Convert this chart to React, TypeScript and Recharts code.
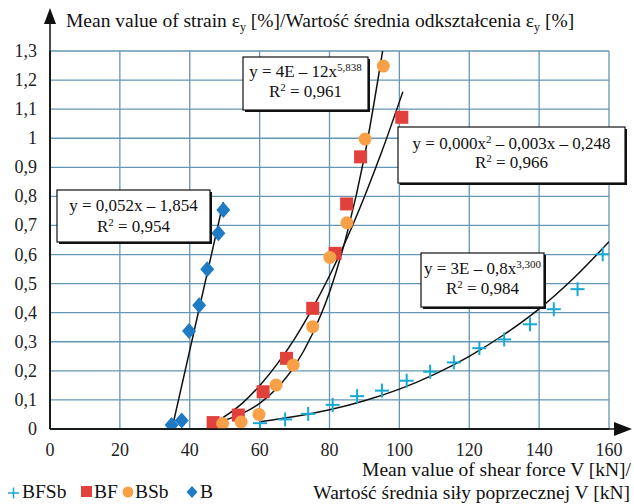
import React from 'react';
import { ComposedChart, Scatter, Line, XAxis, YAxis, CartesianGrid } from 'recharts';

const xTicks = [0, 20, 40, 60, 80, 100, 120, 140, 160];
const yTicks = [0, 0.1, 0.2, 0.3, 0.4, 0.5, 0.6, 0.7, 0.8, 0.9, 1, 1.1, 1.2, 1.3];

const bfsbX = [60.1, 67.3, 73.9, 80.9, 87.9, 95.0, 102.1, 108.8, 115.6, 122.9, 130.0, 137.4, 144.2, 151.0, 158.2];
const bfsbY = [0.02, 0.033, 0.052, 0.083, 0.113, 0.132, 0.166, 0.197, 0.229, 0.278, 0.308, 0.36, 0.412, 0.481, 0.601];
const bfX = [46.7, 53.9, 61.0, 67.7, 75.2, 81.6, 84.9, 88.9, 100.7];
const bfY = [0.022, 0.048, 0.128, 0.243, 0.415, 0.604, 0.774, 0.936, 1.072];
const bsbX = [49.4, 54.7, 59.8, 64.7, 69.6, 75.2, 80.1, 85.0, 90.2, 95.4];
const bsbY = [0.019, 0.024, 0.05, 0.151, 0.22, 0.352, 0.59, 0.709, 0.997, 1.248];
const bX = [34.8, 37.7, 39.8, 42.7, 45.0, 48.2, 49.6];
const bY = [0.014, 0.029, 0.337, 0.426, 0.549, 0.673, 0.753];

const bTrendX = [34.9, 49.6];
const bTrendY = [0, 0.78];
const bsbTrendX = [50, 55, 60, 65, 70, 75, 80, 85, 90, 95.2];
const bsbTrendY = [0.03, 0.053, 0.088, 0.141, 0.216, 0.324, 0.47, 0.672, 0.937, 1.3];
const bfTrendX = [47, 55, 60, 65, 70, 75, 80, 85, 90, 95, 101];
const bfTrendY = [0.02, 0.088, 0.149, 0.223, 0.31, 0.412, 0.527, 0.656, 0.799, 0.955, 1.16];
const bfsbTrendX = [60, 70, 80, 90, 100, 110, 120, 130, 140, 150, 160];
const bfsbTrendY = [0.025, 0.043, 0.066, 0.097, 0.137, 0.188, 0.25, 0.325, 0.413, 0.52, 0.644];

const zip = (xs: number[], ys: number[]) => xs.map((x, i) => ({ x, y: ys[i] }));

const CYAN = '#17a9d6';
const RED = '#e2403c';
const ORANGE = '#f7a047';
const BLUE = '#1f7bc4';
const GRID = '#6497b4';
const FONT = '"Liberation Serif", "DejaVu Serif", serif';

const CrossShape = (p: any) => (
  <g stroke={CYAN} strokeWidth={2}>
    <line x1={p.cx - 7} y1={p.cy} x2={p.cx + 7} y2={p.cy} />
    <line x1={p.cx} y1={p.cy - 7} x2={p.cx} y2={p.cy + 7} />
  </g>
);
const SquareShape = (p: any) => <rect x={p.cx - 6.5} y={p.cy - 6.5} width={13} height={13} fill={RED} />;
const CircleShape = (p: any) => <circle cx={p.cx} cy={p.cy} r={6.5} fill={ORANGE} />;
const DiamondShape = (p: any) => (
  <polygon points={`${p.cx},${p.cy - 8} ${p.cx + 7},${p.cy} ${p.cx},${p.cy + 8} ${p.cx - 7},${p.cy}`} fill={BLUE} />
);

const fmt = (v: number) => {
  if (v === 0) return '0';
  if (Math.abs(v - 1) < 1e-9) return '1';
  return v.toFixed(1).replace('.', ',');
};

const XTick = (p: any) => (
  <text x={p.x} y={p.y} dy={13} textAnchor="middle" fontFamily={FONT} fontSize={18} fill="#222">
    {p.payload.value}
  </text>
);
const YTick = (p: any) => (
  <text x={p.x} y={p.y} dy={6} textAnchor="end" fontFamily={FONT} fontSize={18} fill="#222">
    {fmt(p.payload.value)}
  </text>
);

const Box = ({ x, y, w, h, children }: any) => (
  <g>
    <rect x={x + 2} y={y + 2} width={w} height={h} fill="#111" />
    <rect x={x} y={y} width={w} height={h} fill="#fff" stroke="#111" strokeWidth={1.2} />
    {children}
  </g>
);

export default function App() {
  return (
    <div style={{ position: 'absolute', left: 0, top: 0, width: 634, height: 504, background: '#fff', fontFamily: FONT }}>
      <ComposedChart width={634} height={504} margin={{ top: 51, right: 25, bottom: 45, left: 10 }}>
        <CartesianGrid stroke={GRID} strokeWidth={1.3} />
        <XAxis
          type="number"
          dataKey="x"
          domain={[0, 160]}
          ticks={xTicks}
          height={30}
          tickSize={0}
          tickMargin={14}
          axisLine={{ stroke: '#111', strokeWidth: 1.5 }}
          tick={<XTick />}
          allowDataOverflow
        />
        <YAxis
          type="number"
          domain={[0, 1.3]}
          ticks={yTicks}
          width={40}
          tickSize={0}
          tickMargin={13}
          axisLine={{ stroke: '#111', strokeWidth: 1.5 }}
          tick={<YTick />}
          allowDataOverflow
        />
        <Scatter name="BFSb" data={zip(bfsbX, bfsbY)} dataKey="y" shape={CrossShape} isAnimationActive={false} />
        <Scatter name="BF" data={zip(bfX, bfY)} dataKey="y" shape={SquareShape} isAnimationActive={false} />
        <Scatter name="BSb" data={zip(bsbX, bsbY)} dataKey="y" shape={CircleShape} isAnimationActive={false} />
        <Scatter name="B" data={zip(bX, bY)} dataKey="y" shape={DiamondShape} isAnimationActive={false} />
        <Line data={zip(bTrendX, bTrendY)} dataKey="y" type="linear" stroke="#111" strokeWidth={1.5} dot={false} isAnimationActive={false} legendType="none" />
        <Line data={zip(bsbTrendX, bsbTrendY)} dataKey="y" type="monotone" stroke="#111" strokeWidth={1.5} dot={false} isAnimationActive={false} legendType="none" />
        <Line data={zip(bfTrendX, bfTrendY)} dataKey="y" type="monotone" stroke="#111" strokeWidth={1.5} dot={false} isAnimationActive={false} legendType="none" />
        <Line data={zip(bfsbTrendX, bfsbTrendY)} dataKey="y" type="monotone" stroke="#111" strokeWidth={1.5} dot={false} isAnimationActive={false} legendType="none" />
      </ComposedChart>
      <svg width={634} height={504} style={{ position: 'absolute', left: 0, top: 0, pointerEvents: 'none' }} fontFamily={FONT}>
        {/* axis extensions and arrows */}
        <line x1={50} y1={429} x2={50} y2={22} stroke="#111" strokeWidth={1.5} />
        <polygon points="50,8 44,24 56,24" fill="#111" />
        <line x1={50} y1={429} x2={614} y2={429} stroke="#111" strokeWidth={1.5} />
        <polygon points="632,429 614,422 614,436" fill="#111" />
        {/* y title */}
        <text x={66} y={27} fontSize={19.5} fill="#111">
          Mean value of strain ε<tspan fontSize={12} dy={4}>y</tspan>
          <tspan dy={-4}> [%]/Wartość średnia odkształcenia ε</tspan>
          <tspan fontSize={12} dy={4}>y</tspan>
          <tspan dy={-4}> [%]</tspan>
        </text>
        {/* x title */}
        <text x={631} y={476} fontSize={19.5} fill="#111" textAnchor="end">Mean value of shear force V [kN]/</text>
        <text x={630} y={499} fontSize={19.5} fill="#111" textAnchor="end">Wartość średnia siły poprzecznej V [kN]</text>
        {/* legend */}
        <g>
          <line x1={8} y1={493} x2={19} y2={493} stroke={CYAN} strokeWidth={1.5} />
          <line x1={13.5} y1={487.5} x2={13.5} y2={498.5} stroke={CYAN} strokeWidth={1.5} />
          <text x={22} y={498} fontSize={19.5} fill="#111">BFSb</text>
          <rect x={81} y={486} width={11} height={11} fill={RED} />
          <text x={94} y={498} fontSize={19.5} fill="#111">BF</text>
          <circle cx={128} cy={492} r={5.5} fill={ORANGE} />
          <text x={135} y={498} fontSize={19.5} fill="#111">BSb</text>
          <polygon points="192,486 197.5,492 192,498 186.5,492" fill={BLUE} />
          <text x={200} y={498} fontSize={19.5} fill="#111">B</text>
        </g>
        {/* equation boxes */}
        <Box x={57} y={190} w={153} h={52}>
          <text x={133.5} y={211} fontSize={17} textAnchor="middle" fill="#111">y = 0,052x – 1,854</text>
          <text x={133.5} y={232} fontSize={17} textAnchor="middle" fill="#111">R<tspan fontSize={11} dy={-6}>2</tspan><tspan dy={6}> = 0,954</tspan></text>
        </Box>
        <Box x={243} y={57} w={125} h={53}>
          <text x={305.5} y={77} fontSize={17} textAnchor="middle" fill="#111">y = 4E – 12x<tspan fontSize={11} dy={-6}>5,838</tspan></text>
          <text x={305.5} y={97} fontSize={17} textAnchor="middle" fill="#111">R<tspan fontSize={11} dy={-6}>2</tspan><tspan dy={6}> = 0,961</tspan></text>
        </Box>
        <Box x={398} y={127} w={227} h={56}>
          <text x={511.5} y={149} fontSize={17} textAnchor="middle" fill="#111">y = 0,000x<tspan fontSize={11} dy={-6}>2</tspan><tspan dy={6}> – 0,003x – 0,248</tspan></text>
          <text x={511.5} y={168} fontSize={17} textAnchor="middle" fill="#111">R<tspan fontSize={11} dy={-6}>2</tspan><tspan dy={6}> = 0,966</tspan></text>
        </Box>
        <Box x={421} y={253} w={123} h={54}>
          <text x={482.5} y={274} fontSize={17} textAnchor="middle" fill="#111">y = 3E – 0,8x<tspan fontSize={11} dy={-6}>3,300</tspan></text>
          <text x={482.5} y={294} fontSize={17} textAnchor="middle" fill="#111">R<tspan fontSize={11} dy={-6}>2</tspan><tspan dy={6}> = 0,984</tspan></text>
        </Box>
      </svg>
    </div>
  );
}
